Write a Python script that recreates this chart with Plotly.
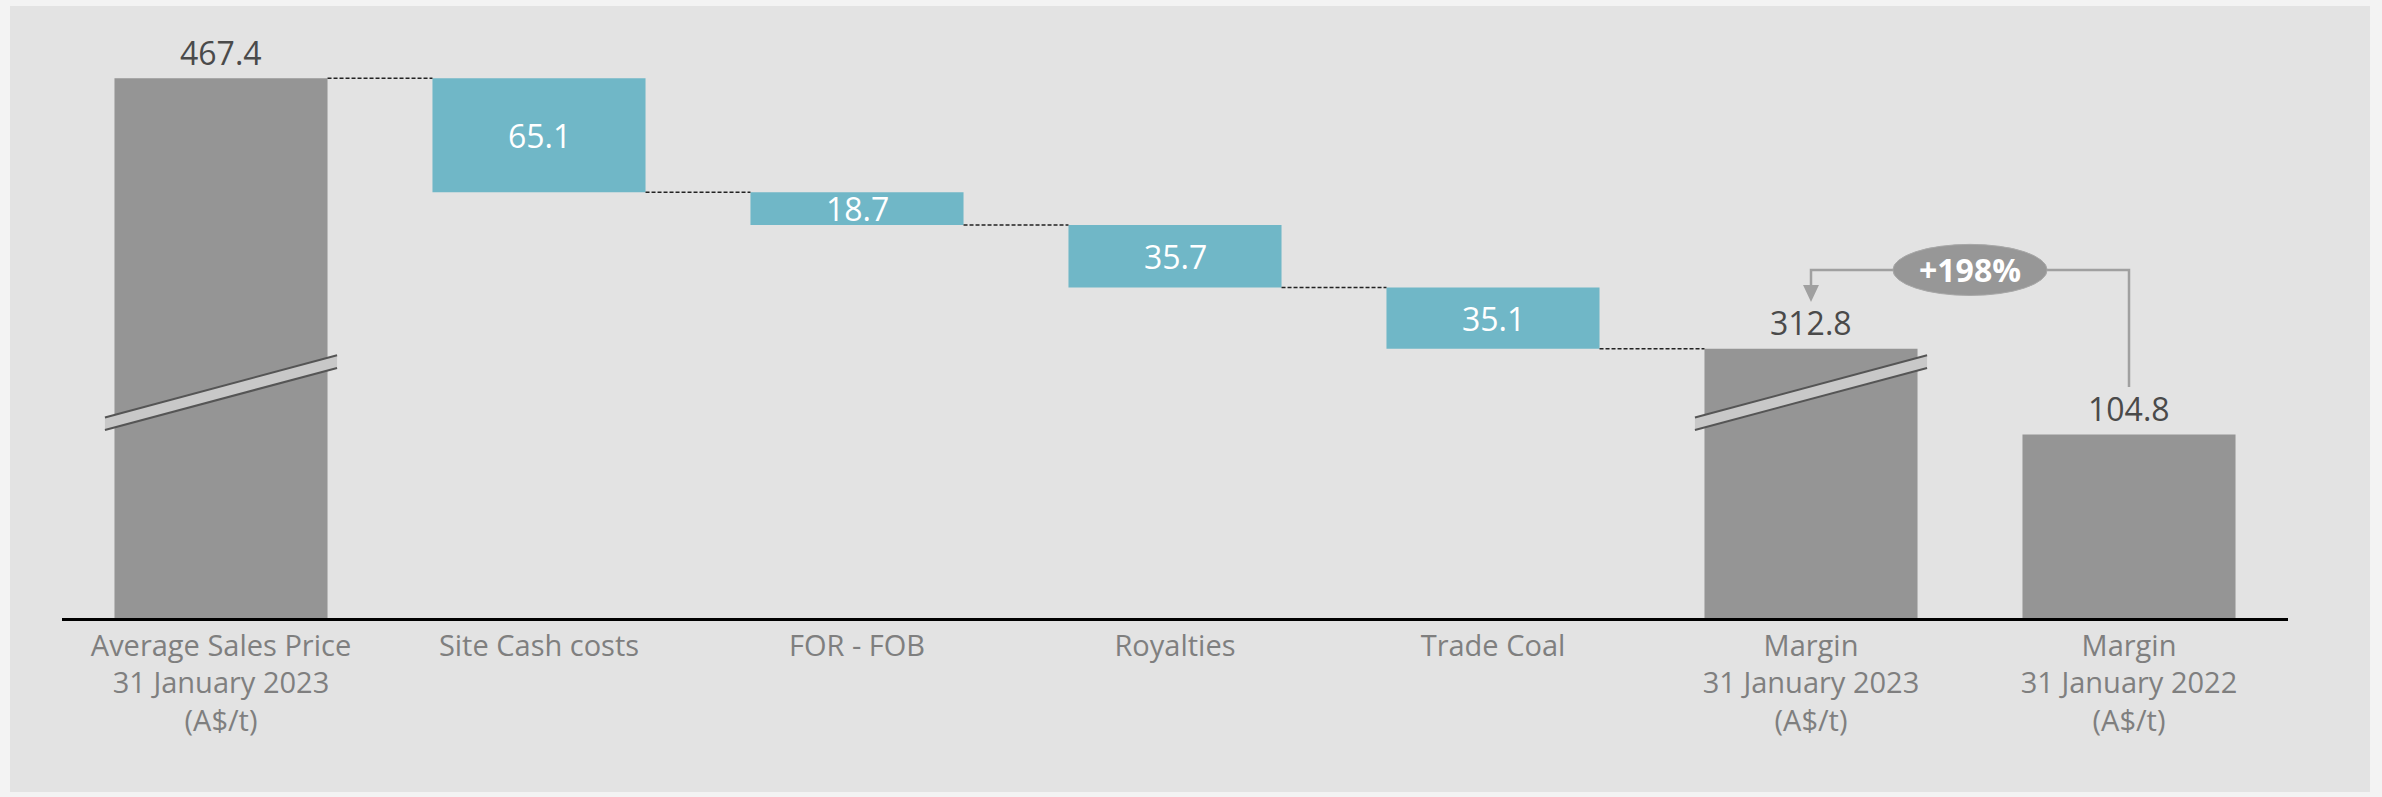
import plotly.graph_objects as go

# ---------------- data ----------------
categories = [
    "Average Sales Price<br>31 January 2023<br>(A$/t)",
    "Site Cash costs",
    "FOR - FOB",
    "Royalties",
    "Trade Coal",
    "Margin<br>31 January 2023<br>(A$/t)",
    "Margin<br>31 January 2022<br>(A$/t)",
]
values = [467.4, 65.1, 18.7, 35.7, 35.1, 312.8, 104.8]
kinds = ["total", "cost", "cost", "cost", "cost", "total", "total"]
broken = [True, False, False, False, False, True, False]
change_label = "+198%"

# ---------------- style ----------------
AXIS_BREAK = 159.0          # amount hidden by the axis break on broken bars
GREY = "#959595"
BLUE = "#70b7c7"
PANEL = "#e3e3e3"
OUTER = "#f3f3f3"
FONT = "Open Sans"
BAR_HALF = 0.335
LABEL_GREY = "#7f7f7f"
PLOT_H = 600
AX_Y = 618

x = list(range(len(categories)))
bases, heights, colors = [], [], []
level = None
for v, k, b in zip(values, kinds, broken):
    disp = v - AXIS_BREAK if b else v
    if k == "total":
        bases.append(0)
        heights.append(disp)
        colors.append(GREY)
        level = disp
    else:
        bases.append(level - v)
        heights.append(v)
        colors.append(BLUE)
        level = level - v

fig = go.Figure()
fig.add_trace(go.Bar(
    x=x, y=heights, base=bases,
    marker=dict(color=colors, line=dict(width=0)),
    width=2 * BAR_HALF, hoverinfo="skip", showlegend=False,
))

shapes = []
annotations = []

# connectors (dashed) between consecutive waterfall steps
for i in range(5):
    lvl = bases[i + 1] + heights[i + 1]
    shapes.append(dict(type="line", xref="x", yref="y",
                       x0=i + BAR_HALF, x1=i + 1 - BAR_HALF, y0=lvl, y1=lvl,
                       line=dict(color="#222222", width=1.5, dash="4px,2px")))

# axis-break marks on broken bars
for i, b in enumerate(broken):
    if not b:
        continue
    xl, xr = i - 0.365, i + 0.365
    yl_lo, yl_hi, yr_lo, yr_hi = 107.4, 114.6, 142.9, 150.1
    shapes.append(dict(type="path", xref="x", yref="y",
                       path=f"M {xl},{yl_lo} L {xr},{yr_lo} L {xr},{yr_hi} L {xl},{yl_hi} Z",
                       fillcolor="#c8c8c8", line=dict(width=0)))
    shapes.append(dict(type="line", xref="x", yref="y", x0=xl, x1=xr, y0=yl_lo, y1=yr_lo,
                       line=dict(color="#555555", width=2)))
    shapes.append(dict(type="line", xref="x", yref="y", x0=xl, x1=xr, y0=yl_hi, y1=yr_hi,
                       line=dict(color="#555555", width=2)))

# value labels
for i, (v, k) in enumerate(zip(values, kinds)):
    top = bases[i] + heights[i]
    if k == "total":
        annotations.append(dict(x=i, y=top, xref="x", yref="y", text=f"{v:.1f}",
                                showarrow=False, yanchor="middle", yshift=26,
                                font=dict(family=FONT, size=32, color="#4a4a4a")))
    else:
        annotations.append(dict(x=i, y=bases[i] + heights[i] / 2, xref="x", yref="y",
                                text=f"{v:.1f}", showarrow=False, yanchor="middle",
                                font=dict(family=FONT, size=32, color="white")))

# change bracket between the two margins
y_br = 198.9
shapes.append(dict(type="path", xref="x", yref="y",
                   path=f"M 5,190.3 L 5,{y_br} L 6,{y_br} L 6,132",
                   line=dict(color="#a0a0a0", width=2.5)))
shapes.append(dict(type="path", xref="x", yref="y",
                   path="M 4.975,190.3 L 5.025,190.3 L 5,180.6 Z",
                   fillcolor="#a0a0a0", line=dict(width=0)))
shapes.append(dict(type="circle", xref="x", yref="y",
                   x0=5.5 - 0.2425, x1=5.5 + 0.2425, y0=y_br - 14.6, y1=y_br + 14.6,
                   fillcolor="#979797", line=dict(color="#a8a8a8", width=1)))
annotations.append(dict(x=5.5, y=y_br, xref="x", yref="y", text=f"<b>{change_label}</b>",
                        showarrow=False, yanchor="middle",
                        font=dict(family=FONT, size=32, color="white")))

# panel background
shapes.insert(0, dict(type="rect", xref="paper", yref="paper", layer="below",
                      x0=(10 - 62) / 2226, x1=(2370 - 62) / 2226,
                      y0=(AX_Y - 792) / PLOT_H, y1=(AX_Y - 6) / PLOT_H,
                      fillcolor=PANEL, line=dict(width=0)))

fig.update_layout(
    width=2382, height=797,
    margin=dict(l=62, r=94, t=18, b=179, pad=0),
    paper_bgcolor=OUTER, plot_bgcolor="rgba(0,0,0,0)",
    shapes=shapes, annotations=annotations,
    font=dict(family=FONT),
    bargap=0.33,
)
fig.update_xaxes(range=[-0.5, 6.5], tickvals=x, ticktext=categories,
                 showline=True, linecolor="black", linewidth=2.5,
                 showgrid=False, zeroline=False, ticks="",
                 tickfont=dict(family=FONT, size=29, color=LABEL_GREY))
fig.update_yaxes(range=[0, PLOT_H / 1.75], visible=False, showgrid=False, zeroline=False)

fig.write_html("out.html")
